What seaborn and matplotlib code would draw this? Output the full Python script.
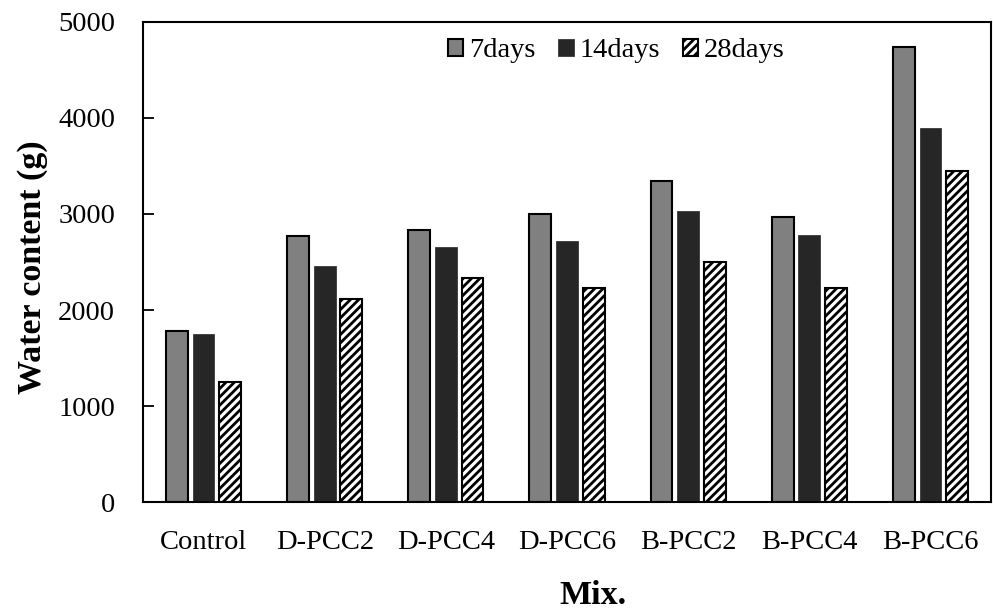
import matplotlib
matplotlib.use("Agg")
import matplotlib.pyplot as plt
import seaborn as sns
import pandas as pd

mixes = ["Control", "D-PCC2", "D-PCC4", "D-PCC6", "B-PCC2", "B-PCC4", "B-PCC6"]
ages = ["7days", "14days", "28days"]
days7 = [1780, 2770, 2830, 3000, 3340, 2970, 4740]
days14 = [1750, 2455, 2655, 2720, 3030, 2780, 3895]
days28 = [1245, 2110, 2330, 2230, 2495, 2230, 3445]
yticks = [0, 1000, 2000, 3000, 4000, 5000]

df = pd.DataFrame({
    "Mix": mixes * 3,
    "Age": [a for a in ages for _ in mixes],
    "Water": days7 + days14 + days28,
})

sns.set_style("white")
plt.rcParams["font.family"] = ["Liberation Serif", "DejaVu Serif"]
plt.rcParams["hatch.linewidth"] = 2.0
plt.rcParams["hatch.color"] = "black"
plt.rcParams["text.color"] = "black"
plt.rcParams["axes.labelcolor"] = "black"
plt.rcParams["xtick.color"] = "black"
plt.rcParams["ytick.color"] = "black"

fig = plt.figure(figsize=(9.93, 6.10), dpi=100)
ax = fig.add_axes([0.144, 0.177, 0.854, 0.787])

palette = {"7days": "#808080", "14days": "#262626", "28days": "#ffffff"}
sns.barplot(data=df, x="Mix", y="Water", hue="Age", order=mixes, hue_order=ages,
            palette=palette, width=0.66, gap=0.18, ax=ax, legend=False,
            saturation=1)

styles = [
    dict(edgecolor="black", linewidth=1.5, hatch=None),
    dict(edgecolor="#262626", linewidth=0.5, hatch=None),
    dict(edgecolor="black", linewidth=1.5, hatch="////"),
]
for cont, st in zip(ax.containers, styles):
    for p in cont.patches:
        p.set_edgecolor(st["edgecolor"])
        p.set_linewidth(st["linewidth"])
        if st["hatch"]:
            p.set_hatch(st["hatch"])

ax.set_ylim(0, 5000)
ax.set_xlim(-0.5, len(mixes) - 0.5)
ax.set_yticks(yticks)
ax.set_yticklabels([str(t) for t in yticks])
ax.tick_params(axis="y", direction="in", length=8, width=1.3, pad=20, labelsize=20.5,
               left=True, colors="black")
ax.tick_params(axis="x", length=0, pad=20, labelsize=20.5, colors="black")
for s in ax.spines.values():
    s.set_visible(True)
    s.set_color("black")
    s.set_linewidth(1.5)

ax.set_xlabel("Mix.", fontsize=24.5, fontweight="bold", color="black")
ax.xaxis.set_label_coords(0.53, -0.162)
ax.set_ylabel("Water content (g)", fontsize=24.5, fontweight="bold", color="black")
ax.yaxis.set_label_coords(-0.112, 0.49)

leg = ax.legend(handles=ax.containers, labels=ages, loc="center", bbox_to_anchor=(0.558, 0.94),
                ncol=3, frameon=False, fontsize=20.5, handlelength=0.55, handleheight=0.55,
                handletextpad=0.2, columnspacing=0.8, borderpad=0)
for t in leg.get_texts():
    t.set_color("black")

fig.savefig("out.png", dpi=100)
